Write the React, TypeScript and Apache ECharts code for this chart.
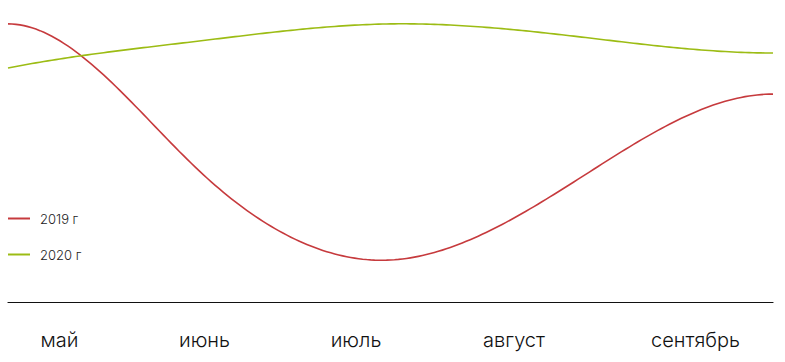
import React, { useEffect, useRef } from "react";
import * as echarts from "echarts";

const categories = ["май", "июнь", "июль", "август", "сентябрь"];
const series2019 = [92.7, 43.7, 14, 41.7, 69.3];
const series2020 = [78, 87, 92.7, 88.3, 83];
const seriesNames = ["2019 г", "2020 г"];
const seriesColors = ["#c63a3d", "#9cbc14"];
const labelCenters = [59.5, 204.5, 356, 514, 695.5];

// cubic spline through pixel points with given end slopes (dy/dx in pixels)
function splinePoints(pts: number[][], s0: number, sN: number, samples: number): number[][] {
  const n = pts.length;
  if (n < 2) return pts;
  const x = pts.map((p) => p[0]);
  const y = pts.map((p) => p[1]);
  const h: number[] = [];
  for (let i = 0; i < n - 1; i++) h.push(x[i + 1] - x[i]);
  const a: number[] = new Array(n).fill(0);
  const b: number[] = new Array(n).fill(0);
  const c: number[] = new Array(n).fill(0);
  const d: number[] = new Array(n).fill(0);
  b[0] = 2 * h[0];
  c[0] = h[0];
  d[0] = 6 * ((y[1] - y[0]) / h[0] - s0);
  for (let i = 1; i < n - 1; i++) {
    a[i] = h[i - 1];
    b[i] = 2 * (h[i - 1] + h[i]);
    c[i] = h[i];
    d[i] = 6 * ((y[i + 1] - y[i]) / h[i] - (y[i] - y[i - 1]) / h[i - 1]);
  }
  a[n - 1] = h[n - 2];
  b[n - 1] = 2 * h[n - 2];
  d[n - 1] = 6 * (sN - (y[n - 1] - y[n - 2]) / h[n - 2]);
  const cp = new Array(n).fill(0);
  const dp = new Array(n).fill(0);
  cp[0] = c[0] / b[0];
  dp[0] = d[0] / b[0];
  for (let i = 1; i < n; i++) {
    const m = b[i] - a[i] * cp[i - 1];
    cp[i] = c[i] / m;
    dp[i] = (d[i] - a[i] * dp[i - 1]) / m;
  }
  const M = new Array(n).fill(0);
  M[n - 1] = dp[n - 1];
  for (let i = n - 2; i >= 0; i--) M[i] = dp[i] - cp[i] * M[i + 1];
  const out: number[][] = [];
  for (let i = 0; i < n - 1; i++) {
    const hi = h[i];
    for (let k = 0; k < samples; k++) {
      const xx = x[i] + (hi * k) / samples;
      const aa = x[i + 1] - xx;
      const bb = xx - x[i];
      const yy =
        (M[i] * aa * aa * aa) / (6 * hi) +
        (M[i + 1] * bb * bb * bb) / (6 * hi) +
        (y[i] / hi - (M[i] * hi) / 6) * aa +
        (y[i + 1] / hi - (M[i + 1] * hi) / 6) * bb;
      out.push([xx, yy]);
    }
  }
  out.push([x[n - 1], y[n - 1]]);
  return out;
}

// endSlopes: curve slope at the two ends, in value units per category step
function curveSeries(name: string, values: number[], color: string, endSlopes: number[]) {
  return {
    name,
    type: "custom",
    data: values.map((v, i) => [i, v]),
    encode: { x: 0, y: 1 },
    itemStyle: { color },
    renderItem: (params: any, api: any) => {
      if (params.dataIndex !== 0) return { type: "group", children: [] };
      const pts = values.map((v, i) => api.coord([i, v]));
      const size = api.size([1, 1]);
      const k = -size[1] / size[0];
      return {
        type: "polyline",
        shape: { points: splinePoints(pts, endSlopes[0] * k, endSlopes[1] * k, 48) },
        style: { stroke: color, lineWidth: 1.6, fill: null },
        silent: true,
      };
    },
  };
}

export default function App() {
  const ref = useRef<HTMLDivElement>(null);
  useEffect(() => {
    if (!ref.current) return;
    const chart = echarts.init(ref.current, null, { renderer: "svg" });
    const font = "Inter, 'Noto Sans', sans-serif";
    chart.setOption({
      animation: false,
      grid: { left: 8, right: 12, top: 2, height: 300 },
      legend: {
        orient: "vertical",
        left: 8,
        top: 212,
        padding: 0,
        itemWidth: 22,
        itemHeight: 2,
        itemGap: 23,
        icon: "rect",
        textStyle: { fontFamily: font, fontSize: 13, fontWeight: 300, color: "#222", padding: [0, 0, 0, 5] },
        data: seriesNames,
      },
      xAxis: {
        type: "category",
        data: categories,
        boundaryGap: false,
        axisLine: { lineStyle: { color: "#111", width: 1.2 } },
        axisTick: { show: false },
        axisLabel: { show: false },
        splitLine: { show: false },
      },
      yAxis: { type: "value", min: 0, max: 100, show: false },
      graphic: categories.map((c, i) => ({
        type: "text",
        x: labelCenters[i],
        y: 340,
        style: {
          text: c,
          fontFamily: font,
          fontSize: 20,
          fontWeight: 300,
          fill: "#111",
          align: "center",
          verticalAlign: "middle",
        },
      })),
      series: [
        curveSeries(seriesNames[0], series2019, seriesColors[0], [0, 0]),
        curveSeries(seriesNames[1], series2020, seriesColors[1], [12.5, 0]),
      ],
    });
    return () => chart.dispose();
  }, []);
  return <div ref={ref} style={{ width: 785, height: 362, position: "absolute", left: 0, top: 0 }} />;
}
